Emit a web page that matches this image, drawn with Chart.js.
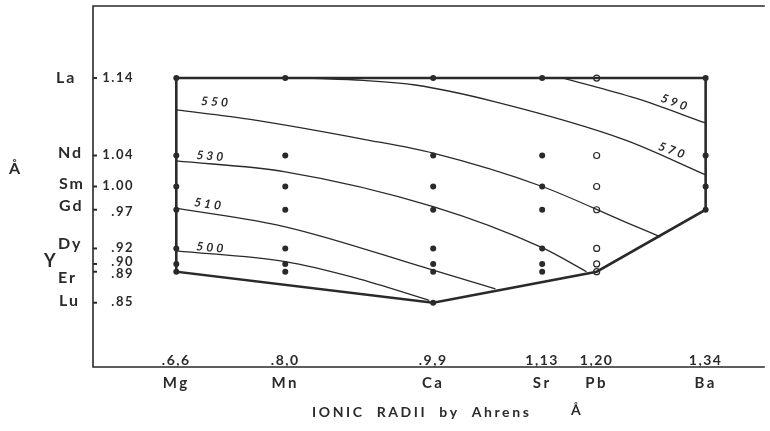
<!DOCTYPE html>
<html>
<head>
<meta charset="utf-8">
<script src="https://cdn.jsdelivr.net/npm/chart.js@4/dist/chart.umd.min.js"></script>
<style>
  html, body { margin: 0; padding: 0; background: #fff; }
  #wrap { width: 770px; height: 431px; }
</style>
</head>
<body>
<div id="wrap"><canvas id="myChart" width="770" height="431"></canvas></div>
<script>
// Cations on the x axis, ionic radii (Ahrens)
const cations = ["Mg", "Mn", "Ca", "Sr", "Pb", "Ba"];
const cationRadii = [0.66, 0.80, 0.99, 1.13, 1.20, 1.34];
const cationTicks = [".6,6", ".8,0", ".9,9", "1,13", "1,20", "1,34"];

// Rare earths on the y axis
const rareEarths = ["La", "Nd", "Sm", "Gd", "Dy", "Y", "Er", "Lu"];
const rareEarthRadii = [1.14, 1.04, 1.00, 0.97, 0.92, 0.90, 0.89, 0.85];
const rareEarthTicks = ["1.14", "1.04", "1.00", ".97", ".92", ".90", ".89", ".85"];

// how many rare earths (from La down) were made with each cation
const measuredCount = [7, 7, 8, 7, 7, 4];
const openCations = ["Pb"];

// field boundary
const boundary = [
  [0.66, 1.14], [1.34, 1.14], [1.34, 0.97], [1.20, 0.89],
  [0.99, 0.85], [0.66, 0.89], [0.66, 1.14]
];

// contour lines
const contourLevels = [500, 510, 530, 550, 570, 590];
const contour500 = [[0.66, 0.917], [0.80, 0.903], [0.89, 0.882], [0.985, 0.853]];
const contour510 = [[0.66, 0.972], [0.80, 0.948], [0.99, 0.892], [1.07, 0.868]];
const contour530 = [[0.66, 1.033], [0.80, 1.019], [0.99, 0.974], [1.13, 0.921], [1.187, 0.890]];
const contour550 = [[0.66, 1.099], [0.753, 1.087], [0.906, 1.060], [0.99, 1.043], [1.13, 1.000], [1.237, 0.954], [1.282, 0.935]];
const contour570 = [[0.83, 1.14], [0.90, 1.137], [0.967, 1.131], [1.071, 1.109], [1.237, 1.060], [1.34, 1.015]];
const contour590 = [[1.157, 1.14], [1.25, 1.114], [1.34, 1.082]];
const contours = [contour500, contour510, contour530, contour550, contour570, contour590];

// --- styling ---
const ink = "#2a2a2a";
const font = "Lato, 'DejaVu Sans', sans-serif";
const labelSpots = {
  500: { x: 0.705, y: 0.921, rot: 5 },
  510: { x: 0.702, y: 0.977, rot: 8 },
  530: { x: 0.705, y: 1.039, rot: 4 },
  550: { x: 0.711, y: 1.109, rot: 4 },
  570: { x: 1.298, y: 1.046, rot: 20 },
  590: { x: 1.301, y: 1.108, rot: 20 }
};
const nameSpots = {
  La: [56, 0], Nd: [58, -3], Sm: [59, -3], Gd: [59, -4],
  Dy: [58, -5], Y: [44, -3], Er: [58, 6], Lu: [59, -2]
};
const tickTextShift = { "1.04": -1, "1.00": -1, ".97": 2, ".92": -1, ".90": -2.5, ".89": 2, ".85": -1 };

const toXY = (arr) => arr.map((p) => ({ x: p[0], y: p[1] }));

const filled = [];
const open = [];
cations.forEach((c, i) => {
  for (let r = 0; r < measuredCount[i]; r++) {
    const pt = { x: cationRadii[i], y: rareEarthRadii[r] };
    if (openCations.includes(c)) open.push(pt);
    else filled.push(pt);
  }
});

const datasets = [
  {
    label: "boundary",
    data: toXY(boundary),
    showLine: true,
    borderColor: ink,
    borderWidth: 2.6,
    pointRadius: 0,
    tension: 0
  }
];
contours.forEach((c, i) => {
  datasets.push({
    label: String(contourLevels[i]),
    data: toXY(c),
    showLine: true,
    borderColor: ink,
    borderWidth: 1.3,
    pointRadius: 0,
    cubicInterpolationMode: "monotone"
  });
});
datasets.push({
  label: "filled",
  data: filled,
  pointRadius: 3,
  pointBackgroundColor: ink,
  pointBorderWidth: 0
});
datasets.push({
  label: "open",
  data: open,
  pointRadius: 3,
  pointBackgroundColor: "#fff",
  pointBorderColor: ink,
  pointBorderWidth: 1.2
});

const overlay = {
  id: "overlay",
  beforeDatasetsDraw(chart) {
    const { ctx, chartArea: a } = chart;
    ctx.save();
    ctx.strokeStyle = ink;
    ctx.lineWidth = 1.6;
    ctx.beginPath();
    ctx.moveTo(a.right, a.top);
    ctx.lineTo(a.left, a.top);
    ctx.lineTo(a.left, a.bottom);
    ctx.lineTo(a.right, a.bottom);
    ctx.stroke();
    ctx.restore();
  },
  afterDatasetsDraw(chart) {
    const { ctx, chartArea: a, scales } = chart;
    const x = scales.x, y = scales.y;
    ctx.save();
    ctx.fillStyle = ink;
    ctx.strokeStyle = ink;

    // y axis: ticks, values and element names
    rareEarths.forEach((name, i) => {
      const py = y.getPixelForValue(rareEarthRadii[i]);
      ctx.lineWidth = 2;
      ctx.beginPath();
      ctx.moveTo(a.left, py);
      ctx.lineTo(a.left + 4, py);
      ctx.stroke();
      ctx.font = "bold 13px " + font;
      ctx.letterSpacing = "1.5px";
      ctx.textAlign = "right";
      ctx.textBaseline = "middle";
      ctx.fillText(rareEarthTicks[i], 134, py + (tickTextShift[rareEarthTicks[i]] || 0));
      const s = nameSpots[name];
      ctx.font = (name === "Y" ? "bold 18px " : "bold 16px ") + font;
      ctx.letterSpacing = "2px";
      ctx.textAlign = "left";
      ctx.fillText(name, s[0], py + s[1]);
    });

    // x axis: values above, cations below
    cations.forEach((name, i) => {
      const px = x.getPixelForValue(cationRadii[i]);
      ctx.font = "bold 14px " + font;
      ctx.letterSpacing = "1.5px";
      ctx.textAlign = "center";
      ctx.textBaseline = "alphabetic";
      ctx.fillText(cationTicks[i], px, a.bottom - 2);
      ctx.font = "bold 15px " + font;
      ctx.letterSpacing = "2.5px";
      ctx.textBaseline = "middle";
      ctx.fillText(name, px, a.bottom + 16);
    });

    // contour labels
    contourLevels.forEach((lev) => {
      const s = labelSpots[lev];
      ctx.save();
      ctx.translate(x.getPixelForValue(s.x), y.getPixelForValue(s.y));
      ctx.rotate((s.rot * Math.PI) / 180);
      ctx.font = "italic bold 12px " + font;
      ctx.letterSpacing = "3px";
      ctx.textAlign = "center";
      ctx.textBaseline = "middle";
      ctx.fillText(String(lev), 0, 0);
      ctx.restore();
    });

    // axis titles
    ctx.font = "bold 14px " + font;
    ctx.letterSpacing = "2.6px";
    ctx.textAlign = "left";
    ctx.textBaseline = "middle";
    ctx.fillText("IONIC  RADII  by  Ahrens", 312, 412);
    ctx.fillText("Å", 571, 410);
    ctx.font = "bold 16px " + font;
    ctx.fillText("Å", 9, 169);
    ctx.restore();
  }
};

const ctx = document.getElementById("myChart").getContext("2d");
new Chart(ctx, {
  type: "scatter",
  data: { datasets: datasets },
  options: {
    responsive: false,
    animation: false,
    devicePixelRatio: 1,
    layout: { padding: { left: 93, right: 0, top: 6, bottom: 64 } },
    plugins: { legend: { display: false }, tooltip: { enabled: false } },
    scales: {
      x: { type: "linear", min: 0.553, max: 1.416, display: false },
      y: { type: "linear", min: 0.767, max: 1.233, display: false }
    }
  },
  plugins: [overlay]
});
</script>
</body>
</html>
